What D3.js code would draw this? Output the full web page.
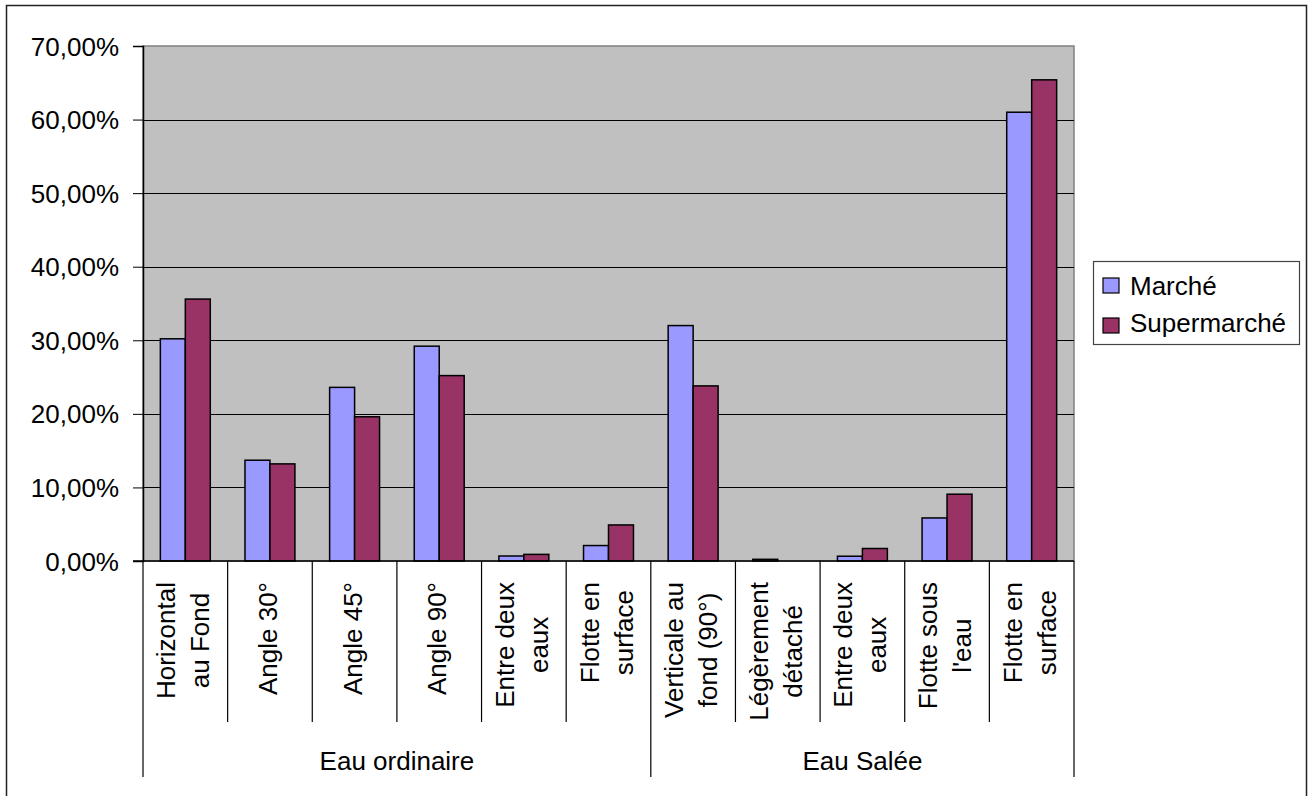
<!DOCTYPE html>
<html>
<head>
<meta charset="utf-8">
<script src="https://cdn.jsdelivr.net/npm/d3@7/dist/d3.min.js"></script>
<style>
  html, body { margin: 0; padding: 0; background: #fff; }
  svg { display: block; font-family: "Liberation Sans", Arial, sans-serif; }
</style>
</head>
<body>
<svg id="chart" width="1315" height="796"></svg>
<script>
// Category labels (one entry per line of the wrapped label)
const categoryLines = [
  ["Horizontal", "au Fond"],
  ["Angle 30°"],
  ["Angle 45°"],
  ["Angle 90°"],
  ["Entre deux", "eaux"],
  ["Flotte en", "surface"],
  ["Verticale au", "fond (90°)"],
  ["Légèrement", "détaché"],
  ["Entre deux", "eaux"],
  ["Flotte sous", "l'eau"],
  ["Flotte en", "surface"]
];
// Group each category belongs to
const groups = ["Eau ordinaire", "Eau Salée"];
const categoryGroup = [0, 0, 0, 0, 0, 0, 1, 1, 1, 1, 1];

// Series values (shares)
const seriesNames = ["Marché", "Supermarché"];
const marche      = [0.302, 0.137, 0.236, 0.292, 0.0068, 0.021, 0.320, 0.0023, 0.0065, 0.0585, 0.610];
const supermarche = [0.356, 0.132, 0.196, 0.252, 0.009, 0.049, 0.238, 0.0, 0.017, 0.0908, 0.654];
const seriesColors = ["#9999FF", "#993366"];

// Value axis ticks
const yTicks = [0, 0.1, 0.2, 0.3, 0.4, 0.5, 0.6, 0.7];

const svg = d3.select("#chart");
const FONT = 26;

const plot = { left: 143, right: 1074, top: 46, bottom: 561 };

const fr = d3.formatLocale({ decimal: ",", thousands: " ", grouping: [3], currency: ["", " €"] });
const pct = fr.format(".2%");

const x = d3.scaleBand()
  .domain(d3.range(categoryLines.length))
  .range([plot.left, plot.right])
  .paddingInner(0).paddingOuter(0);

const y = d3.scaleLinear().domain([0, 0.7]).range([plot.bottom, plot.top]);

// Outer chart frame
svg.append("rect")
  .attr("x", 6.5).attr("y", 5.5)
  .attr("width", 1300).attr("height", 800)
  .attr("fill", "#fff").attr("stroke", "#222").attr("stroke-width", 1.5);

// Plot area
svg.append("rect")
  .attr("x", plot.left).attr("y", plot.top)
  .attr("width", plot.right - plot.left).attr("height", plot.bottom - plot.top)
  .attr("fill", "#C0C0C0").attr("stroke", "#808080").attr("stroke-width", 1.5);

// Gridlines
svg.append("g")
  .selectAll("line")
  .data(yTicks.filter(d => d > 0 && d < 0.7))
  .join("line")
  .attr("x1", plot.left).attr("x2", plot.right)
  .attr("y1", d => Math.round(y(d)) + 0.5).attr("y2", d => Math.round(y(d)) + 0.5)
  .attr("stroke", "#000").attr("stroke-width", 1);

// Bars
const series = [marche, supermarche];
const bw = x.bandwidth() * 0.295;
series.forEach((vals, si) => {
  svg.append("g")
    .selectAll("rect")
    .data(vals.map((v, i) => ({ v, i })).filter(d => d.v > 0))
    .join("rect")
    .attr("x", d => x(d.i) + x.bandwidth() / 2 + (si - 1) * bw)
    .attr("y", d => y(d.v))
    .attr("width", bw)
    .attr("height", d => y(0) - y(d.v))
    .attr("fill", seriesColors[si])
    .attr("stroke", "#000").attr("stroke-width", 1.5);
});

// Y axis
const yAxis = svg.append("g")
  .attr("transform", `translate(${plot.left},0)`)
  .call(d3.axisLeft(y).tickValues(yTicks).tickFormat(pct).tickSize(10).tickPadding(14));
yAxis.select(".domain").attr("stroke", "#000").attr("stroke-width", 1.5);
yAxis.selectAll(".tick line").attr("stroke", "#000");
yAxis.selectAll(".tick text")
  .attr("font-size", FONT).attr("font-family", "'Liberation Sans', Arial, sans-serif")
  .attr("fill", "#000").attr("dy", "0.35em");

// X axis baseline
svg.append("line")
  .attr("x1", plot.left - 10).attr("x2", plot.right)
  .attr("y1", plot.bottom).attr("y2", plot.bottom)
  .attr("stroke", "#000").attr("stroke-width", 1.5);

// Category separators
const sepBottomCat = 722, sepBottomGroup = 777;
const boundaries = d3.range(categoryLines.length + 1);
svg.append("g")
  .selectAll("line")
  .data(boundaries)
  .join("line")
  .attr("x1", i => i < categoryLines.length ? x(i) : plot.right)
  .attr("x2", i => i < categoryLines.length ? x(i) : plot.right)
  .attr("y1", plot.bottom)
  .attr("y2", i => {
    if (i === 0 || i === categoryLines.length) return sepBottomGroup;
    return categoryGroup[i] !== categoryGroup[i - 1] ? sepBottomGroup : sepBottomCat;
  })
  .attr("stroke", "#000").attr("stroke-width", 1.2);

// Category labels, rotated, lines centred on each other, top-aligned
const labelTop = 582, lineGap = 34;
const catG = svg.append("g");
categoryLines.forEach((lines, i) => {
  const cx = x(i) + x.bandwidth() / 2;
  const g = catG.append("g").attr("transform", `translate(${cx},${labelTop}) rotate(-90)`);
  const texts = lines.map((t, li) =>
    g.append("text")
      .attr("font-size", FONT).attr("fill", "#000")
      .attr("text-anchor", "middle")
      .attr("y", (li - (lines.length - 1) / 2) * lineGap + 7)
      .text(t));
  const w = d3.max(texts, t => t.node().getComputedTextLength());
  texts.forEach(t => t.attr("x", -w / 2));
});

// Group labels
const groupCenters = groups.map((g, gi) => {
  const idx = d3.range(categoryLines.length).filter(i => categoryGroup[i] === gi);
  return (x(idx[0]) + x(idx[idx.length - 1]) + x.bandwidth()) / 2;
});
svg.append("g")
  .selectAll("text")
  .data(groups)
  .join("text")
  .attr("x", (d, i) => groupCenters[i])
  .attr("y", 770)
  .attr("text-anchor", "middle")
  .attr("font-size", FONT).attr("fill", "#000")
  .text(d => d);

// Legend
const legend = svg.append("g");
legend.append("rect")
  .attr("x", 1093.5).attr("y", 261.5).attr("width", 206).attr("height", 83)
  .attr("fill", "#fff").attr("stroke", "#444").attr("stroke-width", 1.2);
seriesNames.forEach((name, i) => {
  legend.append("rect")
    .attr("x", 1103).attr("y", 278 + i * 40).attr("width", 16).attr("height", 15)
    .attr("fill", seriesColors[i]).attr("stroke", "#000").attr("stroke-width", 1.2);
  legend.append("text")
    .attr("x", 1130).attr("y", 295 + i * 37)
    .attr("font-size", FONT).attr("fill", "#000")
    .text(name);
});
</script>
</body>
</html>
